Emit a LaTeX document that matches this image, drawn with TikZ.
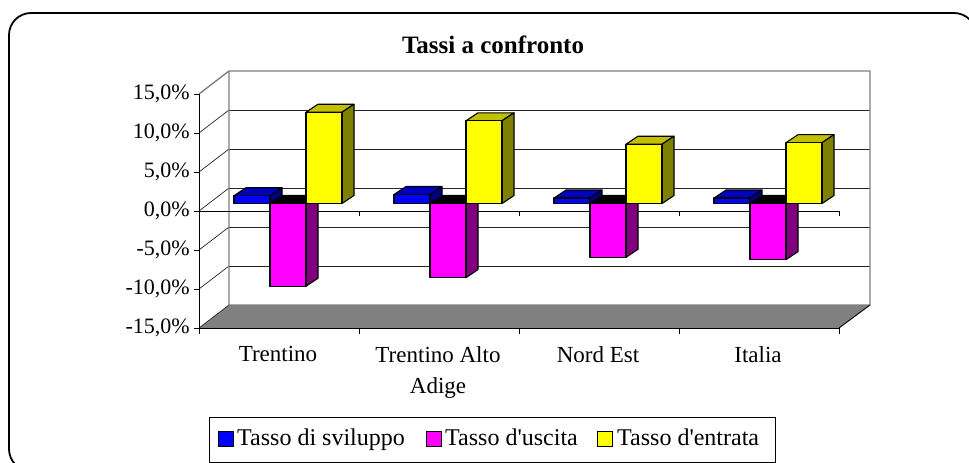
\documentclass[tikz,border=0pt]{standalone}
\usepackage{fontspec}
\setmainfont{Liberation Serif}

\definecolor{wallgray}{RGB}{128,128,128}
\definecolor{bluefront}{RGB}{0,0,255}
\definecolor{bluetop}{RGB}{0,0,192}
\definecolor{blueside}{RGB}{0,0,128}
\definecolor{magfront}{RGB}{255,0,255}
\definecolor{magside}{RGB}{128,0,128}
\definecolor{yelfront}{RGB}{255,255,0}
\definecolor{yeltop}{RGB}{192,192,0}
\definecolor{yelside}{RGB}{128,128,0}

\tikzset{
  barface/.style={draw=black, line width=1.1pt, line join=round},
  gridrule/.style={draw=black!85, line width=0.7pt},
  wallrule/.style={draw=wallgray, line width=1.4pt},
  axisrule/.style={draw=black, line width=0.9pt},
  ticklabel/.style={anchor=east, inner sep=0pt, font=\fontsize{22}{26}\selectfont},
  catlabel/.style={anchor=north, inner sep=0pt, align=center, font=\fontsize{23}{31}\selectfont},
  keybox/.style={draw=black, line width=0.8pt, minimum size=15pt, inner sep=0pt},
  keytext/.style={anchor=base west, inner sep=0pt, font=\fontsize{24}{28}\selectfont},
}

% 3d column: left x, value in %, front, top and side colours
\newcommand{\colbar}[5]{%
  \pgfmathsetmacro\barup{min(203.5,203.5-7.8*#2)}%
  \pgfmathsetmacro\barlow{max(203.5,203.5-7.8*#2)}%
  \filldraw[barface, fill=#4] (#1,\barup) -- (#1+36,\barup) -- (#1+48,\barup-8) -- (#1+12,\barup-8) -- cycle;
  \filldraw[barface, fill=#5] (#1+36,\barup) -- (#1+48,\barup-8) -- (#1+48,\barlow-8) -- (#1+36,\barlow) -- cycle;
  \filldraw[barface, fill=#3] (#1,\barup) rectangle (#1+36,\barlow);
}

\begin{document}
\begin{tikzpicture}[x=1pt, y=-1pt]
  \useasboundingbox (0,0) rectangle (969,463);
  \clip (0,0) rectangle (969,463);
  \draw[line width=1.8pt, rounded corners=22pt] (9,13) rectangle (976,471);

  \node[anchor=base, inner sep=0pt, font=\fontsize{25}{30}\selectfont\bfseries] (title) at (493,53) {Tassi a confronto};

  % floor and walls
  \fill[wallgray] (199,328) -- (839,328) -- (870,305) -- (229,305) -- cycle;
  \draw[gridrule] (229,110) -- (870,110) (229,149) -- (870,149) (229,188) -- (870,188)
                  (229,227) -- (870,227) (229,266) -- (870,266);
  \draw[gridrule] (199,133) -- (229,110) (199,172) -- (229,149) (199,211) -- (229,188)
                  (199,250) -- (229,227) (199,289) -- (229,266) (199,328) -- (229,305);
  \draw[wallrule] (199,94) -- (229,71) -- (870,71) -- (870,305) -- (229,305) -- (229,71);
  \draw[axisrule] (839,328) -- (870,305);

  % axes
  \draw[axisrule] (199,94) -- (199,334);
  \draw[axisrule] (194,94) -- (199,94) (194,133) -- (199,133) (194,172) -- (199,172)
                  (194,211) -- (199,211) (194,250) -- (199,250) (194,289) -- (199,289)
                  (194,328) -- (199,328);
  \draw[axisrule] (199,211) -- (839,211);
  \draw[axisrule] (359,211) -- (359,216) (519,211) -- (519,216) (679,211) -- (679,216) (839,211) -- (839,216);
  \draw[axisrule] (199,328) -- (839,328);
  \draw[axisrule] (359,328) -- (359,334) (519,328) -- (519,334) (679,328) -- (679,334) (839,328) -- (839,334);

  \node[ticklabel] (lab15) at (190,94) {15,0\%};
  \node[ticklabel] (lab10) at (190,133) {10,0\%};
  \node[ticklabel] (lab5) at (190,172) {5,0\%};
  \node[ticklabel] (lab0) at (190,211) {0,0\%};
  \node[ticklabel] (labm5) at (190,250) {-5,0\%};
  \node[ticklabel] (labm10) at (190,289) {-10,0\%};
  \node[ticklabel] (labm15) at (190,328) {-15,0\%};

  % Trentino
  \colbar{270}{-10.6}{magfront}{black}{magside}
  \colbar{234}{1.0}{bluefront}{bluetop}{blueside}
  \colbar{306}{11.7}{yelfront}{yeltop}{yelside}
  % Trentino Alto Adige
  \colbar{430}{-9.5}{magfront}{black}{magside}
  \colbar{394}{1.15}{bluefront}{bluetop}{blueside}
  \colbar{466}{10.6}{yelfront}{yeltop}{yelside}
  % Nord Est
  \colbar{590}{-6.9}{magfront}{black}{magside}
  \colbar{554}{0.7}{bluefront}{bluetop}{blueside}
  \colbar{626}{7.6}{yelfront}{yeltop}{yelside}
  % Italia
  \colbar{750}{-7.2}{magfront}{black}{magside}
  \colbar{714}{0.7}{bluefront}{bluetop}{blueside}
  \colbar{786}{7.8}{yelfront}{yeltop}{yelside}

  \node[catlabel] (catTrentino) at (278,346) {Trentino};
  \node[catlabel] (catTAA) at (438,346) {Trentino Alto\\Adige};
  \node[catlabel] (catNordEst) at (598,346) {Nord Est};
  \node[catlabel] (catItalia) at (758,346) {Italia};

  % legend
  \draw[line width=0.8pt] (209,417) rectangle (775,462);
  \node[keybox, fill=bluefront] (keySviluppo) at (225.5,438.5) {};
  \node[keytext] (txtSviluppo) at (237,445) {Tasso di sviluppo};
  \node[keybox, fill=magfront] (keyUscita) at (433.5,438.5) {};
  \node[keytext] (txtUscita) at (445,445) {Tasso d\textquotesingle uscita};
  \node[keybox, fill=yelfront] (keyEntrata) at (604.5,438.5) {};
  \node[keytext] (txtEntrata) at (617,445) {Tasso d\textquotesingle entrata};
\end{tikzpicture}
\end{document}
